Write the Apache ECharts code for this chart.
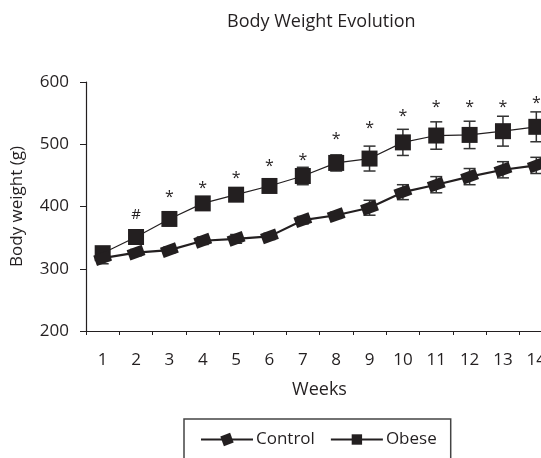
<!DOCTYPE html>
<html>
<head>
<meta charset="utf-8">
<script src="https://cdn.jsdelivr.net/npm/echarts@6/dist/echarts.min.js"></script>
<style>
html,body{margin:0;padding:0;background:#fff;overflow:hidden;}
#chart{width:541px;height:458px;}
</style>
</head>
<body>
<div id="chart"></div>
<script>
const weeks = ['1','2','3','4','5','6','7','8','9','10','11','12','13','14'];
const controlMean = [317, 326, 330, 345, 348, 352, 378, 386, 398, 423, 435, 448, 459, 466];
const controlErr  = [9, 5, 5, 6, 7, 5, 6, 5, 12, 12, 13, 13, 13, 13];
const obeseMean   = [325, 351, 380, 405, 419, 433, 449, 470, 477, 503, 514, 515, 521, 528];
const obeseErr    = [10, 8, 8, 8, 9, 10, 14, 13, 20, 21, 22, 22, 24, 24];
const sigMarks    = ['', '#', '*', '*', '*', '*', '*', '*', '*', '*', '*', '*', '*', '*'];
const sigY        = [null, 386, 421, 436, 452, 470, 481, 514, 532, 551, 566, 566, 566, 572];
const yTicks      = [200, 300, 400, 500, 600];

const ink = '#231f20';
const font = 'Open Sans';

function errData(mean, err){ return mean.map((m,i)=>[i, m, err[i]]); }
function errRender(params, api){
  const i = api.value(0), m = api.value(1), e = api.value(2);
  const t = api.coord([i, m + e]);
  const b = api.coord([i, m - e]);
  const hw = 6;
  const st = {stroke: '#333', lineWidth: 1.5};
  return {type:'group', children:[
    {type:'line', shape:{x1:t[0], y1:t[1], x2:b[0], y2:b[1]}, style:st},
    {type:'line', shape:{x1:t[0]-hw, y1:t[1], x2:t[0]+hw, y2:t[1]}, style:st},
    {type:'line', shape:{x1:b[0]-hw, y1:b[1], x2:b[0]+hw, y2:b[1]}, style:st}
  ]};
}

const chart = echarts.init(document.getElementById('chart'), null, {renderer:'canvas'});
chart.setOption({
  animation: false,
  backgroundColor: '#fff',
  title: {
    text: 'Body Weight Evolution',
    left: 222, top: 8,
    textStyle: {fontFamily: font, fontSize: 18, fontWeight: 'normal', color: ink}
  },
  legend: {
    left: 184, top: 419,
    padding: [12, 14, 24, 16],
    borderColor: '#444', borderWidth: 1.5,
    itemWidth: 52, itemHeight: 13, itemGap: 15,
    textStyle: {fontFamily: font, fontSize: 17, color: ink, padding: [0,0,0,-2]},
    data: ['Control', 'Obese']
  },
  grid: {left: 86, top: 82, bottom: 127, width: 467, containLabel: false, outerBoundsMode: 'none'},
  xAxis: {
    type: 'category', data: weeks, boundaryGap: true,
    name: 'Weeks', nameLocation: 'middle', nameGap: 50,
    nameTextStyle: {fontFamily: font, fontSize: 18, color: ink},
    axisLine: {lineStyle: {color: ink, width: 1.2}},
    axisTick: {show: true, length: 4, inside: false, alignWithLabel: false, lineStyle: {color: ink}},
    axisLabel: {fontFamily: font, fontSize: 17, color: ink, margin: 21}
  },
  yAxis: {
    type: 'value', min: 200, max: 600, interval: 100,
    name: 'Body weight (g)', nameLocation: 'middle', nameGap: 60,
    nameTextStyle: {fontFamily: font, fontSize: 17, color: ink},
    axisLine: {show: true, lineStyle: {color: ink, width: 1.2}},
    axisTick: {show: true, length: 6, inside: false, lineStyle: {color: ink}},
    axisLabel: {fontFamily: font, fontSize: 17, color: ink, margin: 17,
      formatter: v => yTicks.includes(v) ? String(v) : ''},
    splitLine: {show: false}
  },
  series: [
    {
      type: 'custom', name: 'obeseErr', renderItem: errRender,
      data: errData(obeseMean, obeseErr), encode: {x: 0, y: 1}, z: 1, silent: true
    },
    {
      type: 'custom', name: 'controlErr', renderItem: errRender,
      data: errData(controlMean, controlErr), encode: {x: 0, y: 1}, z: 1, silent: true
    },
    {
      name: 'Obese', type: 'line', data: obeseMean,
      symbol: 'rect', symbolSize: 16,
      lineStyle: {color: ink, width: 1.2},
      itemStyle: {color: ink},
      z: 3
    },
    {
      name: 'Control', type: 'line', data: controlMean,
      symbol: 'rect', symbolSize: [16, 11], symbolRotate: 20,
      lineStyle: {color: ink, width: 2.2},
      itemStyle: {color: ink},
      z: 4
    },
    {
      type: 'custom', name: 'sig',
      data: sigY.map((v,i)=>[i, v]), encode: {x: 0, y: 1},
      renderItem: function(params, api){
        const i = api.value(0);
        const mark = sigMarks[i];
        if (!mark) return null;
        const p = api.coord([i, api.value(1)]);
        return {type:'text', x: p[0], y: p[1] + (mark === '*' ? 4 : 0),
          style:{text: mark, fontFamily: font, fontSize: mark === '*' ? 16 : 15,
            fill: ink, align: 'center', verticalAlign: 'middle'}};
      },
      z: 5, silent: true
    }
  ]
});
</script>
</body>
</html>
